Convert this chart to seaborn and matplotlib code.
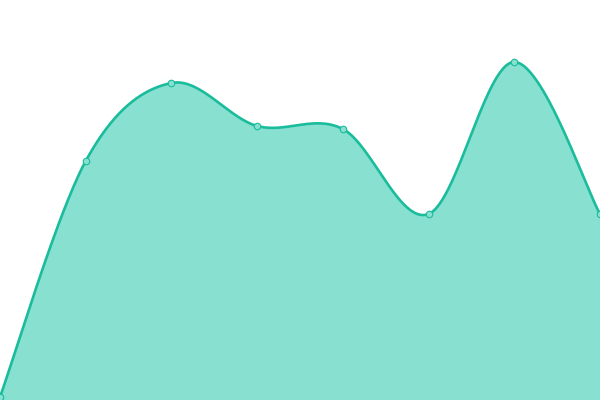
import numpy as np
import pandas as pd
import matplotlib
matplotlib.use("Agg")
import matplotlib.pyplot as plt
import seaborn as sns

x_vals = [0, 1, 2, 3, 4, 5, 6, 7]
y_vals = [3, 239, 317, 274, 271, 186, 338, 186]

LINE = "#1abc9c"
FILL = "#88e0d0"


def cardinal(xs, ys, n=60, tension=0.0):
    k = (1 - tension) / 6.0
    px = [xs[0]] + list(xs) + [xs[-1]]
    py = [ys[0]] + list(ys) + [ys[-1]]
    ox, oy = [], []
    t = np.linspace(0, 1, n)
    for i in range(1, len(px) - 2):
        x0, x1, x2, x3 = px[i - 1], px[i], px[i + 1], px[i + 2]
        y0, y1, y2, y3 = py[i - 1], py[i], py[i + 1], py[i + 2]
        c1x, c1y = x1 + k * (x2 - x0), y1 + k * (y2 - y0)
        c2x, c2y = x2 - k * (x3 - x1), y2 - k * (y3 - y1)
        bx = (1 - t) ** 3 * x1 + 3 * (1 - t) ** 2 * t * c1x + 3 * (1 - t) * t ** 2 * c2x + t ** 3 * x2
        by = (1 - t) ** 3 * y1 + 3 * (1 - t) ** 2 * t * c1y + 3 * (1 - t) * t ** 2 * c2y + t ** 3 * y2
        ox.extend(bx[:-1] if i < len(px) - 3 else bx)
        oy.extend(by[:-1] if i < len(px) - 3 else by)
    return np.array(ox), np.array(oy)


sx, sy = cardinal(x_vals, y_vals)
curve = pd.DataFrame({"x": sx, "y": sy})
pts = pd.DataFrame({"x": x_vals, "y": y_vals})

sns.set_style("white")
fig = plt.figure(figsize=(6, 4), dpi=100)
ax = fig.add_axes([0, 0, 1, 1])
ax.fill_between(curve["x"], curve["y"], 0, color=FILL, linewidth=0)
sns.lineplot(data=curve, x="x", y="y", ax=ax, color=LINE, linewidth=1.9, sort=False, estimator=None)
sns.scatterplot(data=pts, x="x", y="y", ax=ax, s=22, color=FILL, edgecolor=LINE, linewidth=0.8, zorder=5, clip_on=True)
ax.set_xlim(0, 7)
ax.set_ylim(0, 400)
ax.axis("off")
fig.savefig("out.png", dpi=100)
